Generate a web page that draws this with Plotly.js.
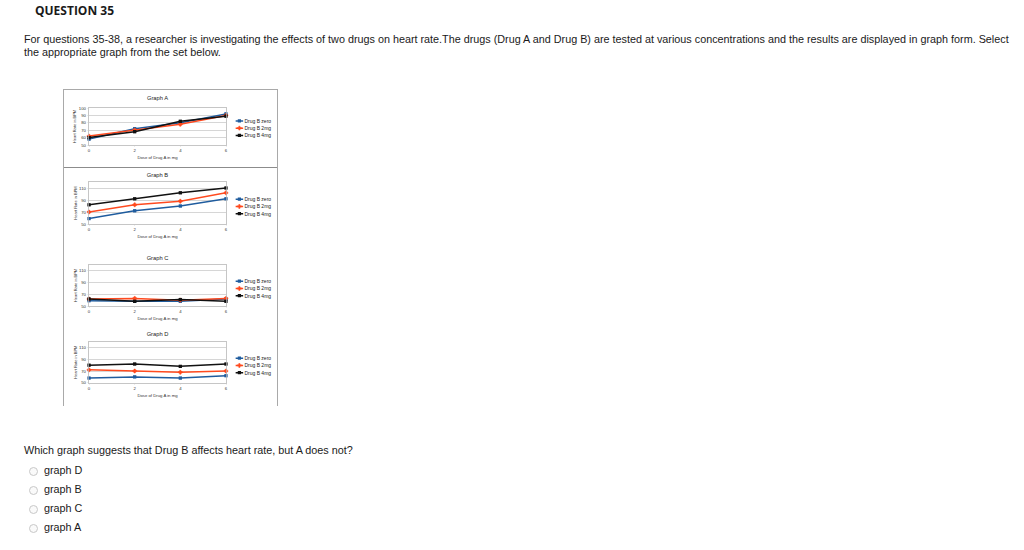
<!DOCTYPE html>
<html>
<head>
<meta charset="utf-8">
<script src="https://cdn.plot.ly/plotly-3.0.1.min.js"></script>
<style>
body{margin:0;background:#fff;width:1024px;height:550px;position:relative;overflow:hidden;font-family:"Liberation Sans",Arial,sans-serif;color:#1a1a1a;}
.qhead{position:absolute;left:35px;top:2px;font-family:"Open Sans",sans-serif;font-weight:700;font-size:12px;}
.intro{position:absolute;left:24px;top:33px;font-size:10.8px;line-height:13px;white-space:nowrap;}
.ask{position:absolute;left:24px;top:444px;font-size:10.8px;white-space:nowrap;}
.opt{position:absolute;left:29px;font-size:10.8px;white-space:nowrap;}
.opt span.r{display:inline-block;width:9px;height:9px;border:1px solid #c8c8c8;border-radius:50%;vertical-align:-2px;margin-right:6px;box-sizing:border-box;background:#fafafa;}
#frame{position:absolute;left:63px;top:89px;width:860px;border:4px solid #a9a9a9;box-sizing:border-box;transform:scale(0.25);transform-origin:0 0;}
.panel{width:852px;}
.sep{border-top:4px solid #8c8c8c;}
</style>
</head>
<body>
<div class="qhead">QUESTION 35</div>
<div class="intro">For questions 35-38, a researcher is investigating the effects of two drugs on heart rate.The drugs (Drug A and Drug B) are tested at various concentrations and the results are displayed in graph form. Select<br>the appropriate graph from the set below.</div>

<div id="frame">
  <div id="graphA" class="panel" style="height:308px"></div>
  <div id="graphB" class="panel sep" style="height:316px"></div>
  <div id="graphC" class="panel sep" style="height:312px"></div>
  <div id="graphD" class="panel sep" style="height:312px"></div>
</div>

<div class="ask">Which graph suggests that Drug B affects heart rate, but A does not?</div>
<div class="opt" style="top:464px"><span class="r"></span>graph D</div>
<div class="opt" style="top:483px"><span class="r"></span>graph B</div>
<div class="opt" style="top:502px"><span class="r"></span>graph C</div>
<div class="opt" style="top:521px"><span class="r"></span>graph A</div>

<script>
/*
 Data (heart rate in BPM)
*/

var doses = [0, 2, 4, 6];
var seriesNames = ["Drug B zero", "Drug B 2mg", "Drug B 4mg"];

var graphA_zero = [58, 72, 80, 92];
var graphA_2mg  = [62, 70, 78, 90];
var graphA_4mg  = [60, 68, 82, 89];

var graphB_zero = [59, 72, 80, 92];
var graphB_2mg  = [70, 82, 88, 102];
var graphB_4mg  = [82, 92, 102, 110];

var graphC_zero = [59, 58, 58, 62];
var graphC_2mg  = [62, 63, 60, 63];
var graphC_4mg  = [62, 58, 61, 58];

var graphD_zero = [58, 60, 58, 62];
var graphD_2mg  = [72, 70, 68, 70];
var graphD_4mg  = [80, 82, 78, 82];

/*
 Drawing (drawn at 4x, then the frame is scaled down)
*/

var colors = ["#1f5c9e", "#ff4a1f", "#111111"];
var symbols = ["square", "cross", "square"];

function drawGraph(id, title, seriesList, yRange, yTick, m, titleY, legendY)
{
  var data = seriesList.map(function(ys, i) {
    return {
      x: doses,
      y: ys,
      name: seriesNames[i],
      type: "scatter",
      mode: "lines+markers",
      line: {color: colors[i], width: 6},
      marker: {color: colors[i], symbol: symbols[i], size: 13,
               line: {color: colors[i], width: i == 1 ? 2 : 0}},
      error_y: {type: "constant", value: 1.3, color: colors[i], thickness: 3, width: 6},
      cliponaxis: false
    };
  });

  var layout = {
    width: 852,
    height: document.getElementById(id).offsetHeight,
    margin: m,
    paper_bgcolor: "#fff",
    plot_bgcolor: "#fff",
    font: {family: "Liberation Sans, Arial, sans-serif", color: "#333"},
    title: {text: title, x: 0.5, xref: "paper", y: titleY, yref: "container", yanchor: "middle",
            font: {size: 23, color: "#222"}},
    xaxis: {
      range: [0, 6], tickvals: doses, showgrid: false, zeroline: false,
      showline: true, linecolor: "#b3b3b3", linewidth: 3, mirror: true,
      ticks: "outside", ticklen: 6, tickcolor: "#b3b3b3",
      tickfont: {size: 17, color: "#333"},
      title: {text: "Dose of Drug A in mg", font: {size: 17, color: "#333"}, standoff: 12}
    },
    yaxis: {
      range: yRange, tick0: 50, dtick: yTick, showgrid: true, gridcolor: "#c8c8c8", gridwidth: 3,
      zeroline: false, showline: true, linecolor: "#b3b3b3", linewidth: 3, mirror: true,
      ticks: "outside", ticklen: 6, tickcolor: "#b3b3b3",
      tickfont: {size: 17, color: "#333"},
      title: {text: "Heart Rate in BPM", font: {size: 16, color: "#333"}, standoff: 6}
    },
    showlegend: true,
    legend: {
      x: 0.8, xref: "container", xanchor: "left",
      y: legendY, yref: "container", yanchor: "top",
      font: {size: 20, color: "#222"},
      itemwidth: 30, tracegroupgap: 0, bgcolor: "rgba(0,0,0,0)"
    }
  };

  var config = {
    'displayModeBar': false,
    'staticPlot': true
  };

  Plotly.newPlot(id, data, layout, config);
}

drawGraph("graphA", "Graph A", [graphA_zero, graphA_2mg, graphA_4mg], [50, 100], 10,
  {l: 100, r: 204, t: 72, b: 88}, 1 - 32 / 308, 1 - 104 / 308);
drawGraph("graphB", "Graph B", [graphB_zero, graphB_2mg, graphB_4mg], [50, 120], 20,
  {l: 100, r: 204, t: 56, b: 96}, 1 - 28 / 316, 1 - 104 / 316);
drawGraph("graphC", "Graph C", [graphC_zero, graphC_2mg, graphC_4mg], [50, 120], 20,
  {l: 100, r: 204, t: 68, b: 84}, 1 - 40 / 312, 1 - 112 / 312);
drawGraph("graphD", "Graph D", [graphD_zero, graphD_2mg, graphD_4mg], [50, 120], 20,
  {l: 100, r: 204, t: 59, b: 93}, 1 - 28 / 312, 1 - 104 / 312);
</script>
</body>
</html>
